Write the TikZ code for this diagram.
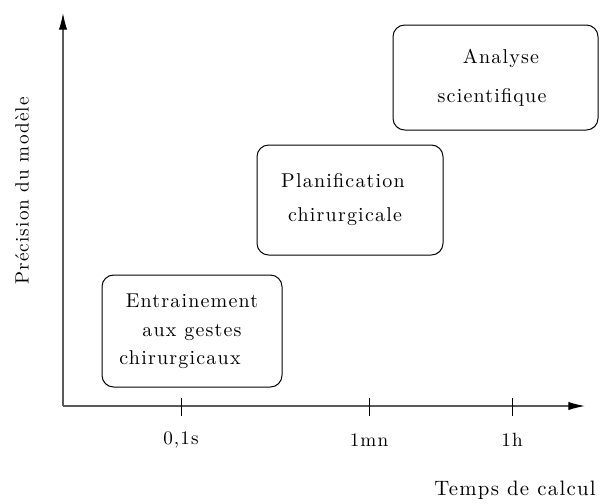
\documentclass[tikz,border=0pt]{standalone}
\usepackage{fontspec}
\setmainfont{lmroman10-regular}[Extension=.otf, LetterSpace=6]
\usetikzlibrary{arrows.meta}

\begin{document}
\begin{tikzpicture}[x=0.6pt,y=-0.6pt,font=\fontsize{12}{14.4}\selectfont]
  \tikzstyle{usebox} = [draw=black, rounded corners=7pt, line width=0.6pt, align=center, inner sep=0pt]
  \tikzstyle{axis} = [draw=black!65, line width=0.7pt, -{Latex[length=10pt,width=5pt,color=black]}]
  \tikzstyle{tick} = [draw=black, line width=0.6pt]

  \useasboundingbox (0,0) rectangle (600,503);

  \coordinate (origin) at (63,406);
  \coordinate (ytip) at (63,13);
  \coordinate (xtip) at (585,406);

  \draw [axis] (origin) -- (ytip);
  \draw [axis] (origin) -- (xtip);

  \node (ylabel) [rotate=90, font=\fontsize{11.5}{13.8}\selectfont] at (22,191) {Précision du modèle};
  \node (xlabel) [font=\fontsize{12.5}{15}\selectfont] at (515,490) {Temps de calcul};

  \foreach \x/\lab [count=\i] in {181/{0,1s},369/1mn,512/1h} {
    \draw [tick] (\x,398) -- (\x,416);
    \node (t\i) [font=\fontsize{11.5}{13.8}\selectfont] at (\x,440) {\lab};
  }

  % lines are not quite centred in the boxes
  \node (train) [usebox, minimum width=108pt, minimum height=67.2pt] at (192,331)
    {Entrainement\\[3pt] aux gestes\hspace*{12pt}\\[2.6pt] chirurgicaux\hspace*{14.4pt}};
  \node (plan) [usebox, minimum width=111.6pt, minimum height=66pt] at (350,200)
    {Planification\hspace*{8.4pt}\\[6pt] chirurgicale\hspace*{6pt}};
  \node (anal) [usebox, minimum width=123pt, minimum height=63pt] at (495.5,77.5)
    {\hspace*{6.6pt}Analyse\\[9pt] scientifique\hspace*{4.2pt}};
\end{tikzpicture}
\end{document}
